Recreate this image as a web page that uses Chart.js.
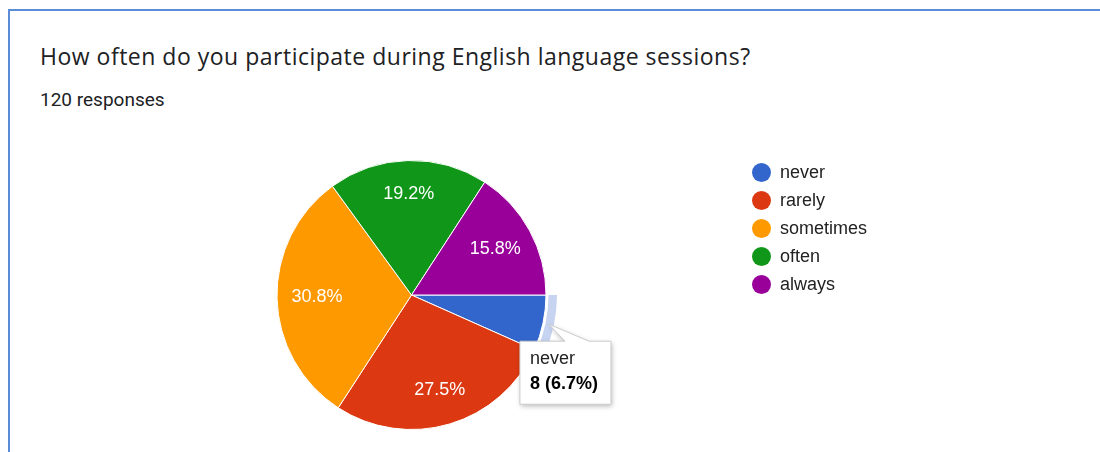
<!DOCTYPE html>
<html>
<head>
<meta charset="utf-8">
<script src="https://cdn.jsdelivr.net/npm/chart.js@4/dist/chart.umd.min.js"></script>
<style>
  html, body { margin: 0; padding: 0; background: #fff; }
  body { width: 1100px; height: 452px; position: relative; overflow: hidden; }
  .card {
    position: absolute; left: 8px; top: 9px; width: 1200px; height: 600px;
    border: 2px solid #5b8cd8; box-sizing: border-box;
  }
  .title {
    position: absolute; left: 40px; top: 45px; margin: 0; letter-spacing: 0.5px;
    font: 400 23px/23px "Open Sans", Roboto, sans-serif; color: #202124; white-space: nowrap;
  }
  .subtitle {
    position: absolute; left: 40px; top: 90px; margin: 0;
    font: 400 19px/19px Roboto, "Noto Sans", sans-serif; color: #202124; white-space: nowrap;
  }
  #chart { position: absolute; left: 0; top: 0; }
  .legend {
    position: absolute; left: 752px; top: 158px; margin: 0; padding: 0; list-style: none;
    font: 400 18px/28px "Liberation Sans", Arial, sans-serif; color: #222;
  }
  .legend li { display: flex; align-items: center; height: 28px; }
  .legend .dot { width: 19px; height: 19px; border-radius: 50%; margin-right: 9px; flex: none; }
</style>
</head>
<body>
<div class="card"></div>
<p class="title">How often do you participate during English language sessions?</p>
<p class="subtitle">120 responses</p>
<canvas id="chart" width="1100" height="452"></canvas>
<ul class="legend" id="legend"></ul>
<script>
// Answer options and response counts
const categories = ['never', 'rarely', 'sometimes', 'often', 'always'];
const responses = [8, 33, 37, 23, 19];
const sliceColors = ['#3366cc', '#dc3912', '#ff9900', '#109618', '#990099'];
const highlightedIndex = 0;          // slice shown with hover ring and tooltip
const minLabelShare = 0.1;           // slices smaller than this get no inner label

const total = responses.reduce((a, b) => a + b, 0);
const pct = v => (v / total * 100).toFixed(1) + '%';

// Legend list
const legendEl = document.getElementById('legend');
categories.forEach((name, i) => {
  const li = document.createElement('li');
  const dot = document.createElement('span');
  dot.className = 'dot';
  dot.style.background = sliceColors[i];
  li.appendChild(dot);
  li.appendChild(document.createTextNode(name));
  legendEl.appendChild(li);
});

// Percentage text inside each slice
const sliceText = {
  id: 'sliceText',
  afterDatasetsDraw(chart) {
    const ctx = chart.ctx;
    const meta = chart.getDatasetMeta(0);
    ctx.save();
    ctx.font = '18px "Liberation Sans", Arial, sans-serif';
    ctx.fillStyle = '#ffffff';
    ctx.textAlign = 'center';
    ctx.textBaseline = 'middle';
    meta.data.forEach((arc, i) => {
      const v = responses[i];
      if (v / total < minLabelShare) return;
      const p = arc.getProps(['x', 'y', 'startAngle', 'endAngle', 'outerRadius'], true);
      const mid = (p.startAngle + p.endAngle) / 2;
      const d = p.outerRadius * 0.755 - 7 * Math.abs(Math.cos(mid));
      ctx.fillText(pct(v), p.x + Math.cos(mid) * d, p.y + Math.sin(mid) * d);
    });
    ctx.restore();
  }
};

// Hover ring around the highlighted slice and its callout box
const highlight = {
  id: 'highlight',
  afterDraw(chart) {
    const ctx = chart.ctx;
    const arc = chart.getDatasetMeta(0).data[highlightedIndex];
    const p = arc.getProps(['x', 'y', 'startAngle', 'endAngle', 'outerRadius'], true);
    ctx.save();
    // ring
    ctx.beginPath();
    ctx.arc(p.x, p.y, p.outerRadius + 11, p.startAngle, p.endAngle);
    ctx.arc(p.x, p.y, p.outerRadius + 2.5, p.endAngle, p.startAngle, true);
    ctx.closePath();
    ctx.fillStyle = '#c6d4f1';
    ctx.fill();

    // callout
    const mid = (p.startAngle + p.endAngle) / 2;
    const tipR = p.outerRadius + 6;
    const tx = p.x + Math.cos(mid) * tipR;
    const ty = p.y + Math.sin(mid) * tipR;
    const line1 = categories[highlightedIndex];
    const line2 = responses[highlightedIndex] + ' (' + pct(responses[highlightedIndex]) + ')';
    ctx.font = 'bold 18px "Liberation Sans", Arial, sans-serif';
    const w2 = ctx.measureText(line2).width;
    ctx.font = '18px "Liberation Sans", Arial, sans-serif';
    const w1 = ctx.measureText(line1).width;
    const bw = Math.max(w1, w2) + 23;
    const bh = 63;
    const bx = tx - 29;
    const by = ty + 17;

    const shape = () => {
      ctx.beginPath();
      ctx.moveTo(bx, by);
      ctx.lineTo(tx + 16, by);
      ctx.lineTo(tx, ty);
      ctx.lineTo(tx + 40, by);
      ctx.lineTo(bx + bw, by);
      ctx.lineTo(bx + bw, by + bh);
      ctx.lineTo(bx, by + bh);
      ctx.closePath();
    };
    ctx.shadowColor = 'rgba(0,0,0,0.28)';
    ctx.shadowBlur = 5;
    ctx.shadowOffsetX = 1;
    ctx.shadowOffsetY = 2;
    shape();
    ctx.fillStyle = '#ffffff';
    ctx.fill();
    ctx.shadowColor = 'transparent';
    ctx.strokeStyle = '#cccccc';
    ctx.lineWidth = 1;
    shape();
    ctx.stroke();

    ctx.textAlign = 'left';
    ctx.textBaseline = 'middle';
    ctx.fillStyle = '#222222';
    ctx.fillText(line1, bx + 10, by + 18);
    ctx.font = 'bold 18px "Liberation Sans", Arial, sans-serif';
    ctx.fillStyle = '#000000';
    ctx.fillText(line2, bx + 10, by + 43);
    ctx.restore();
  }
};

new Chart(document.getElementById('chart'), {
  type: 'pie',
  data: {
    labels: categories,
    datasets: [{
      data: responses,
      backgroundColor: sliceColors,
      borderColor: '#ffffff',
      borderWidth: 1,
      hoverOffset: 0
    }]
  },
  options: {
    responsive: false,
    animation: false,
    events: [],
    rotation: 90,
    layout: { padding: { left: 276, right: 553, top: 160, bottom: 22 } },
    plugins: {
      legend: { display: false },
      tooltip: { enabled: false },
      title: { display: false }
    }
  },
  plugins: [sliceText, highlight]
});
</script>
</body>
</html>
